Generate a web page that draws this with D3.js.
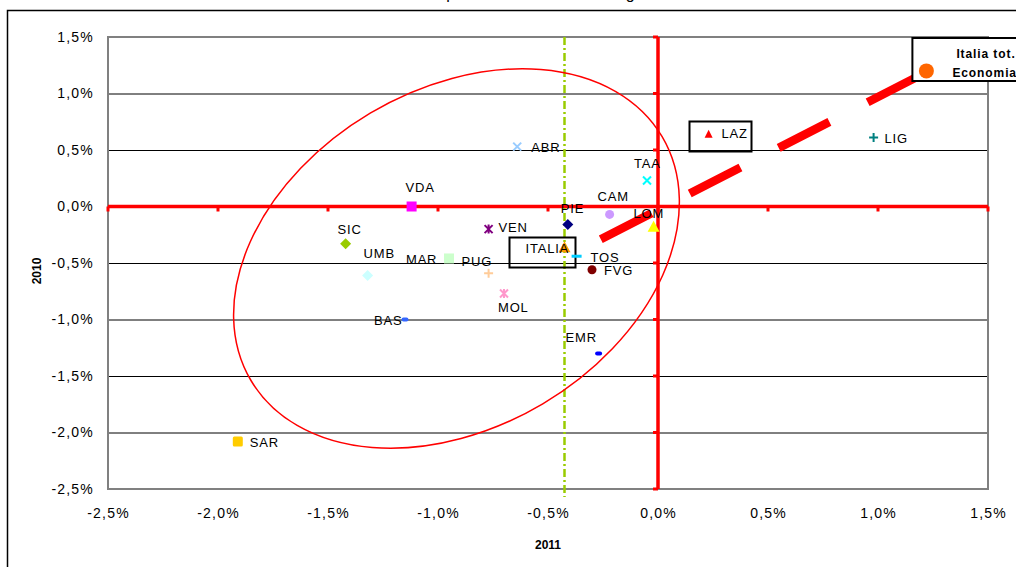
<!DOCTYPE html>
<html>
<head>
<meta charset="utf-8">
<script src="https://cdn.jsdelivr.net/npm/d3@7"></script>
<style>
  html, body { margin: 0; padding: 0; background: #fff; }
  svg { display: block; font-family: "Liberation Sans", Arial, sans-serif; }
</style>
</head>
<body>
<svg id="chart" width="1016" height="567"></svg>
<script>
// Regional growth rates (%): 2011 on the x axis, 2010 on the y axis
const regions = ["ABR","VDA","SIC","UMB","MAR","PUG","VEN","MOL","BAS","PIE","ITALIA","TOS","FVG","CAM","LOM","TAA","LAZ","LIG","EMR","SAR","Italia tot. Economia"];
const growth2011 = [-0.64,-1.12,-1.42,-1.32,-0.95,-0.77,-0.77,-0.70,-1.15,-0.41,-0.425,-0.37,-0.30,-0.22,-0.02,-0.05,0.23,0.98,-0.27,-1.91,1.22];
const growth2010 = [0.53,0.00,-0.33,-0.61,-0.46,-0.59,-0.20,-0.77,-1.00,-0.16,-0.36,-0.44,-0.56,-0.07,-0.18,0.23,0.64,0.61,-1.30,-2.08,1.20];

const xTicks = [-2.5,-2.0,-1.5,-1.0,-0.5,0.0,0.5,1.0,1.5];
const yTicks = [-2.5,-2.0,-1.5,-1.0,-0.5,0.0,0.5,1.0,1.5];

// Reference line at the national 2011 value and the 45° trend segment
const italiaRef2011 = -0.425;
const trendX = [-0.26, 1.17];
const trendY = [-0.29, 1.14];

// Highlight ellipse around the southern/central cluster (centre in data units)
const clusterCentre = [-0.916, -0.46];

// Marker styles per region
const markerStyle = {
  "ABR": {shape: "x", color: "#99ccff"},
  "VDA": {shape: "square", color: "#ff00ff"},
  "SIC": {shape: "diamond", color: "#99cc00"},
  "UMB": {shape: "diamond", color: "#ccffff"},
  "MAR": {shape: "square", color: "#ccffcc"},
  "PUG": {shape: "plus", color: "#ffcc99"},
  "VEN": {shape: "star", color: "#800080"},
  "MOL": {shape: "star", color: "#ff99cc"},
  "BAS": {shape: "dash", color: "#3366ff"},
  "PIE": {shape: "diamond", color: "#000080"},
  "ITALIA": {shape: "triangle", color: "#ff9900"},
  "TOS": {shape: "bar", color: "#00ccff"},
  "FVG": {shape: "circle", color: "#800000"},
  "CAM": {shape: "circle", color: "#cc99ff"},
  "LOM": {shape: "triangle", color: "#ffff00"},
  "TAA": {shape: "x", color: "#00ffff"},
  "LAZ": {shape: "smalltriangle", color: "#ff0000"},
  "LIG": {shape: "plus", color: "#008080"},
  "EMR": {shape: "dash", color: "#0000ff"},
  "SAR": {shape: "bigsquare", color: "#ffcc00"},
  "Italia tot. Economia": {shape: "bigcircle", color: "#ff6600"}
};

// Label offsets from the marker (px)
const labelOffset = {
  "ABR": [14, 5], "VDA": [-6, -15], "SIC": [-8, -10], "UMB": [-4, -17],
  "MAR": [-43, 6], "PUG": [-27, -7], "VEN": [10, 3], "MOL": [-6, 18],
  "BAS": [-31, 5], "PIE": [-7, -12], "ITALIA": [-39, 6], "TOS": [14, 6],
  "FVG": [12, 5], "CAM": [-12, -13], "LOM": [-20, -9], "TAA": [-13, -13],
  "LAZ": [13, 4], "LIG": [11, 5], "EMR": [-33, -11], "SAR": [12, 5]
};

const svg = d3.select("#chart");
const plot = {left: 108, right: 988, top: 37, bottom: 489};

const x = d3.scaleLinear().domain([-2.5, 1.5]).range([plot.left, plot.right]);
const y = d3.scaleLinear().domain([-2.5, 1.5]).range([plot.bottom, plot.top]);
const fmt = v => v.toFixed(1).replace(".", ",") + "%";

// Title (runs above the top edge of the page)
svg.append("text")
  .attr("x", 520).attr("y", -1)
  .attr("text-anchor", "middle")
  .attr("font-size", 16)
  .text("Il confronto per anno della crescita regionale");

// Chart frame
svg.append("rect")
  .attr("x", 7.5).attr("y", 10.5)
  .attr("width", 1100).attr("height", 700)
  .attr("fill", "none").attr("stroke", "#000").attr("stroke-width", 1.5);

// Horizontal gridlines
svg.append("g")
  .attr("transform", `translate(${plot.left},0)`)
  .call(d3.axisLeft(y).tickValues(yTicks.filter(v => v !== 0 && v !== 1.5 && v !== -2.5))
        .tickSize(-(plot.right - plot.left)).tickFormat(""))
  .call(g => g.select(".domain").remove())
  .call(g => g.selectAll("line").attr("stroke", "#000").attr("stroke-width", 1));

// Plot border
svg.append("rect")
  .attr("x", plot.left).attr("y", plot.top)
  .attr("width", plot.right - plot.left).attr("height", plot.bottom - plot.top)
  .attr("fill", "none").attr("stroke", "#808080").attr("stroke-width", 2);

// Tick labels
svg.append("g")
  .attr("transform", `translate(${plot.left - 11},0)`)
  .call(d3.axisLeft(y).tickValues(yTicks).tickSize(0).tickFormat(fmt))
  .call(g => g.select(".domain").remove())
  .call(g => g.selectAll("text")
    .attr("font-family", "'Liberation Sans', Arial, sans-serif")
    .attr("font-size", 14).attr("fill", "#000").attr("letter-spacing", 1.2));

svg.append("g")
  .attr("transform", `translate(0,${plot.bottom + 16})`)
  .call(d3.axisBottom(x).tickValues(xTicks).tickSize(0).tickFormat(fmt))
  .call(g => g.select(".domain").remove())
  .call(g => g.selectAll("text")
    .attr("font-family", "'Liberation Sans', Arial, sans-serif")
    .attr("font-size", 14).attr("fill", "#000").attr("letter-spacing", 1.2));

// Axis titles
svg.append("text")
  .attr("transform", `translate(41,${(plot.top + plot.bottom) / 2 + 8}) rotate(-90)`)
  .attr("text-anchor", "middle").attr("font-size", 12).attr("font-weight", "bold")
  .text("2010");
svg.append("text")
  .attr("x", 548).attr("y", 549)
  .attr("text-anchor", "middle").attr("font-size", 12).attr("font-weight", "bold")
  .text("2011");

// Red zero axes with small ticks
const red = "#ff0000";
svg.append("line")
  .attr("x1", plot.left).attr("x2", plot.right)
  .attr("y1", y(0)).attr("y2", y(0))
  .attr("stroke", red).attr("stroke-width", 3.5);
svg.append("g").selectAll("line").data(xTicks).join("line")
  .attr("x1", d => x(d)).attr("x2", d => x(d))
  .attr("y1", y(0)).attr("y2", y(0) + 5)
  .attr("stroke", red).attr("stroke-width", 3);
svg.append("line")
  .attr("x1", x(0)).attr("x2", x(0))
  .attr("y1", plot.top).attr("y2", plot.bottom)
  .attr("stroke", red).attr("stroke-width", 3.5);
svg.append("g").selectAll("line").data(yTicks).join("line")
  .attr("x1", x(0) - 5).attr("x2", x(0))
  .attr("y1", d => y(d)).attr("y2", d => y(d))
  .attr("stroke", red).attr("stroke-width", 3);

// Green dash-dot reference line at Italy's 2011 value
svg.append("line")
  .attr("x1", x(italiaRef2011)).attr("x2", x(italiaRef2011))
  .attr("y1", y(1.5)).attr("y2", y(-2.57))
  .attr("stroke", "#99cc00").attr("stroke-width", 2.5)
  .attr("stroke-dasharray", "8,3,2,3");

// Cluster ellipse
svg.append("ellipse")
  .attr("cx", 0).attr("cy", 0).attr("rx", 239).attr("ry", 169)
  .attr("transform", `translate(${x(clusterCentre[0])},${y(clusterCentre[1])}) rotate(-30.7)`)
  .attr("fill", "none").attr("stroke", red).attr("stroke-width", 1.5);

// Thick dashed trend line
svg.append("line")
  .attr("x1", x(trendX[0])).attr("y1", y(trendY[0]))
  .attr("x2", x(trendX[1])).attr("y2", y(trendY[1]))
  .attr("stroke", red).attr("stroke-width", 8.5)
  .attr("stroke-dasharray", "57,43");

// Label boxes
svg.append("rect").attr("x", 509.5).attr("y", 237.5).attr("width", 66).attr("height", 30)
  .attr("fill", "none").attr("stroke", "#000").attr("stroke-width", 2);
svg.append("rect").attr("x", 689.5).attr("y", 121.5).attr("width", 62).attr("height", 30)
  .attr("fill", "none").attr("stroke", "#000").attr("stroke-width", 2);

// Boxed label of the national total
const totIdx = regions.length - 1;
const totX = x(growth2011[totIdx]), totY = y(growth2010[totIdx]);
svg.append("rect").attr("x", totX - 14).attr("y", 38).attr("width", 140).attr("height", 43)
  .attr("fill", "#fff").attr("stroke", "#000").attr("stroke-width", 2);
const totLabel = svg.append("text").attr("font-size", 12).attr("font-weight", "bold")
  .attr("letter-spacing", 0.9);
totLabel.append("tspan").attr("x", totX + 30).attr("y", totY - 13).text("Italia tot.");
totLabel.append("tspan").attr("x", totX + 26).attr("y", totY + 6).text("Economia");

// Markers
const data = regions.map((r, i) => ({name: r, gx: growth2011[i], gy: growth2010[i]}));
const mk = svg.append("g");
data.forEach(d => {
  const cx = x(d.gx), cy = y(d.gy);
  const s = markerStyle[d.name];
  const g = mk.append("g").attr("transform", `translate(${cx},${cy})`);
  switch (s.shape) {
    case "square":
      g.append("rect").attr("x", -5).attr("y", -5).attr("width", 10).attr("height", 10).attr("fill", s.color); break;
    case "bigsquare":
      g.append("rect").attr("x", -5).attr("y", -5).attr("width", 10).attr("height", 10).attr("rx", 1.5).attr("fill", s.color); break;
    case "diamond":
      g.append("path").attr("d", "M0,-5.5L5.5,0L0,5.5L-5.5,0Z").attr("fill", s.color); break;
    case "triangle":
      g.append("path").attr("d", "M0,-6L6,5L-6,5Z").attr("fill", s.color); break;
    case "smalltriangle":
      g.append("path").attr("d", "M0,-4.5L4,3.5L-4,3.5Z").attr("fill", s.color); break;
    case "circle":
      g.append("circle").attr("r", 4.5).attr("fill", s.color); break;
    case "bigcircle":
      g.append("circle").attr("r", 7.5).attr("fill", s.color); break;
    case "x":
      g.append("path").attr("d", "M-4,-4L4,4M-4,4L4,-4").attr("stroke", s.color).attr("stroke-width", 2); break;
    case "plus":
      g.append("path").attr("d", "M-4.5,0L4.5,0M0,-4.5L0,4.5").attr("stroke", s.color).attr("stroke-width", 2); break;
    case "star":
      g.append("path").attr("d", "M-4,-4L4,4M-4,4L4,-4M0,-4.5L0,4.5").attr("stroke", s.color).attr("stroke-width", 2); break;
    case "dash":
      g.append("rect").attr("x", -3.5).attr("y", -2).attr("width", 7).attr("height", 4).attr("rx", 2).attr("fill", s.color); break;
    case "bar":
      g.append("rect").attr("x", -5).attr("y", -1.5).attr("width", 10).attr("height", 3).attr("fill", s.color); break;
  }
});

// Region labels
svg.append("g").selectAll("text")
  .data(data.filter(d => labelOffset[d.name]))
  .join("text")
  .attr("x", d => x(d.gx) + labelOffset[d.name][0])
  .attr("y", d => y(d.gy) + labelOffset[d.name][1])
  .attr("font-size", 13).attr("letter-spacing", 0.8).attr("fill", "#000")
  .text(d => d.name);
</script>
</body>
</html>
